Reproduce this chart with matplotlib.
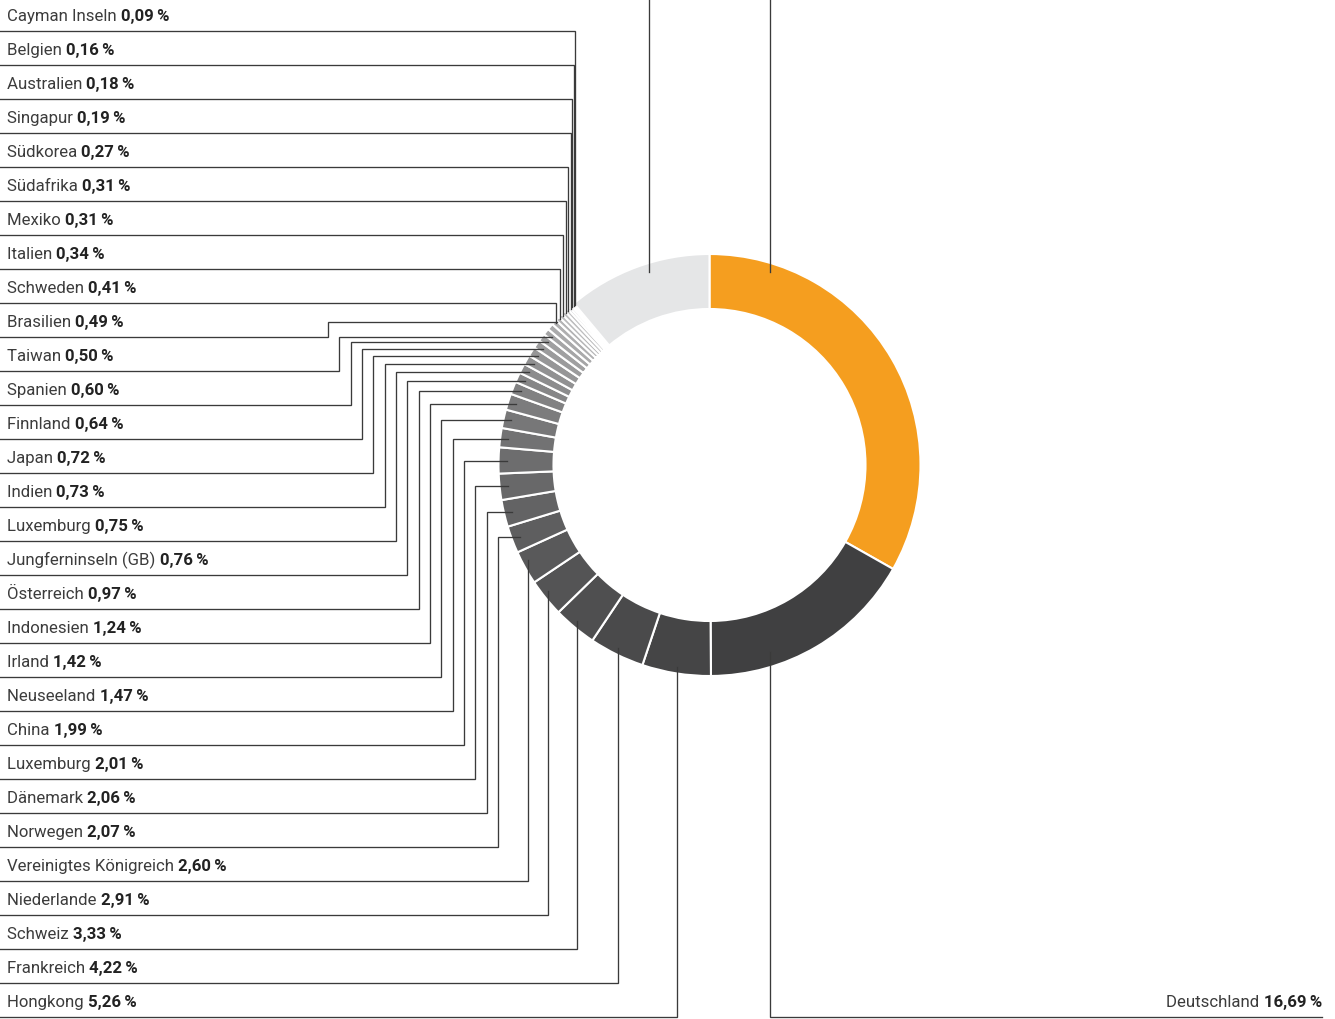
import numpy as np
import matplotlib
matplotlib.use("Agg")
import matplotlib.pyplot as plt

# ---------------- data ----------------
# left labels, top to bottom
countries = ["Cayman Inseln", "Belgien", "Australien", "Singapur", "Südkorea",
             "Südafrika", "Mexiko", "Italien", "Schweden", "Brasilien", "Taiwan",
             "Spanien", "Finnland", "Japan", "Indien", "Luxemburg",
             "Jungferninseln (GB)", "Österreich", "Indonesien", "Irland",
             "Neuseeland", "China", "Luxemburg", "Dänemark", "Norwegen",
             "Vereinigtes Königreich", "Niederlande", "Schweiz", "Frankreich",
             "Hongkong"]
shares = [0.09, 0.16, 0.18, 0.19, 0.27, 0.31, 0.31, 0.34, 0.41, 0.49, 0.50,
          0.60, 0.64, 0.72, 0.73, 0.75, 0.76, 0.97, 1.24, 1.42, 1.47, 1.99,
          2.01, 2.06, 2.07, 2.60, 2.91, 3.33, 4.22, 5.26]
germany_label = "Deutschland"
germany_share = 16.69
top_share = 33.20      # orange slice (label outside the picture)
rest_share = 11.11     # light grey slice (label outside the picture)

# ---------------- layout ----------------
W, H = 1335, 1019
fig = plt.figure(figsize=(W / 100, H / 100), dpi=100)
ax = fig.add_axes([0, 0, 1, 1])

def Y(py):
    return H - py

cx, cy = 709.5, Y(465)
R, ring = 211, 55
FAM = ["Roboto", "DejaVu Sans"]
FS = 12.1
LINE = "#3a3a3a"
LW = 0.95

dark_vals = [germany_share] + shares[::-1]
n_dark = len(dark_vals)
greys = np.linspace(0x40, 0xd8, n_dark)
dark_cols = ["#%02x%02x%02x" % (int(g), int(g), int(g) + 1) for g in greys]

values = [top_share] + dark_vals + [rest_share]
colors = ["#f59e1f"] + dark_cols + ["#e5e6e7"]

wedges, _ = ax.pie(values, colors=colors, startangle=90, counterclock=False,
                   radius=R, center=(cx, cy),
                   wedgeprops=dict(width=ring, edgecolor="white", linewidth=1.5))
ax.set_xlim(0, W)
ax.set_ylim(0, H)
ax.set_aspect("equal")
ax.axis("off")

# wedges for left labels (top to bottom order)
left_wedges = wedges[2:2 + len(shares)][::-1]

row0, step = 31, 34.0
n = len(countries)
elbow_x = np.linspace(328, 498, 16)

def mid_angle(w):
    return np.deg2rad((w.theta1 + w.theta2) / 2)

renderer = fig.canvas.get_renderer()
NAME_KW = dict(family=FAM, fontsize=FS, fontweight="normal", color="#3c3c3c",
               va="baseline")
VAL_KW = dict(family=FAM, fontsize=FS, fontweight="bold", color="#222222",
              va="baseline")

def label(x, y, name, val, ha="left"):
    vs = ("%.2f" % val).replace(".", ",") + "\u2009%"
    if ha == "left":
        t = ax.text(x, y, name + " ", ha="left", **NAME_KW)
        bb = t.get_window_extent(renderer)
        ax.text(bb.x1, y, vs, ha="left", **VAL_KW)
    else:
        t = ax.text(x, y, vs, ha="right", **VAL_KW)
        bb = t.get_window_extent(renderer)
        ax.text(bb.x0, y, name + " ", ha="right", **NAME_KW)

for i, (name, val, w) in enumerate(zip(countries, shares, left_wedges)):
    yu = Y(row0 + i * step)
    a = mid_angle(w)
    label(7, yu + 10, name, val)
    if i < 9:
        xv = cx + 208 * np.cos(a)
        dx = xv - cx
        ye = cy + np.sqrt(max(209 ** 2 - dx ** 2, 0))
        ax.plot([0, xv, xv], [yu, yu, ye], color=LINE, lw=LW, zorder=5,
                solid_joinstyle="miter")
    elif i < 25:
        xv = elbow_x[i - 9]
        axx = cx + 203 * np.cos(a)
        ayy = cy + 203 * np.sin(a)
        if i == 9:  # first elbow is lifted to clear the vertical leaders
            ayy += 10
            axx = cx - np.sqrt(max(211 ** 2 - (ayy - cy) ** 2, 0)) + 3
        ax.plot([0, xv, xv, axx], [yu, yu, ayy, ayy], color=LINE, lw=LW,
                zorder=5, solid_joinstyle="miter")
    else:
        xv = cx + 208 * np.cos(a)
        dx = xv - cx
        ye = cy - np.sqrt(max(205 ** 2 - dx ** 2, 0))
        ax.plot([0, xv, xv], [yu, yu, ye], color=LINE, lw=LW, zorder=5,
                solid_joinstyle="miter")

# Deutschland (right side)
yu = Y(row0 + (n - 1) * step)
xg = cx + 60.5
yg = cy - np.sqrt(197 ** 2 - 60.5 ** 2)
ax.plot([xg, xg, 1322], [yg, yu, yu], color=LINE, lw=LW, zorder=5,
        solid_joinstyle="miter")
label(1322, yu + 10, germany_label, germany_share, ha="right")

# orange and light grey slices: leaders run out of the top of the picture
for dx in (60.5, -60.5):
    ye = cy + np.sqrt(202 ** 2 - dx ** 2)
    ax.plot([cx + dx, cx + dx], [ye, H + 5], color=LINE, lw=LW, zorder=5)

fig.savefig("out.png", dpi=100)
